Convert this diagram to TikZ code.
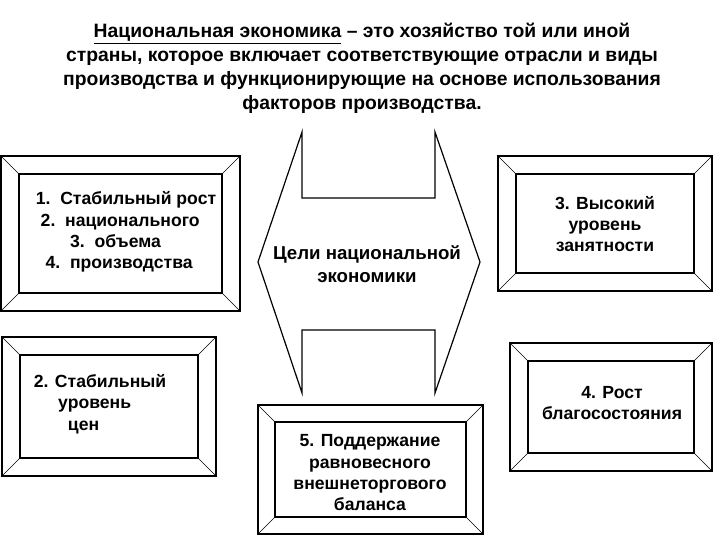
\documentclass[tikz,border=0pt]{standalone}
\usepackage{fontspec}
\setmainfont{Liberation Sans}
\newcommand{\bevelbox}[6]{%
  \coordinate (#1o1) at (#2,#3); \coordinate (#1o2) at (#4,#3);
  \coordinate (#1o3) at (#4,#5); \coordinate (#1o4) at (#2,#5);
  \coordinate (#1i1) at ($(#2,#3)+(#6,#6)$); \coordinate (#1i2) at ($(#4,#3)+(-#6,#6)$);
  \coordinate (#1i3) at ($(#4,#5)+(-#6,-#6)$); \coordinate (#1i4) at ($(#2,#5)+(#6,-#6)$);
  \draw[frame] (#1o1)--(#1o2)--(#1o3)--(#1o4)--cycle;
  \draw[frame] (#1i1)--(#1i2)--(#1i3)--(#1i4)--cycle;
  \draw[thin] (#1o1)--(#1i1) (#1o2)--(#1i2) (#1o3)--(#1i3) (#1o4)--(#1i4);}
\usetikzlibrary{calc}
\begin{document}
\begin{tikzpicture}[x=0.75pt,y=-0.75pt,
  frame/.style={line width=0.9pt},
  txt/.style={font=\bfseries\fontsize{13.2}{16}\selectfont, align=center, inner sep=0pt}]
\useasboundingbox (0,0) rectangle (720,540);
\node[txt, font=\bfseries\fontsize{14.5}{18}\selectfont] (title) at (362,68)
 {\underline{Национальная экономика} – это хозяйство той или иной\\
 страны, которое включает соответствующие отрасли и виды\\
 производства и функционирующие на основе использования\\
 факторов производства.};
\bevelbox{b1}{1}{156}{240}{311}{18}
\bevelbox{b3}{498}{156}{712}{291}{18}
\bevelbox{b2}{2}{337}{216}{476}{18}
\bevelbox{b4}{510}{343}{712}{471}{18}
\bevelbox{b5}{258}{405}{483}{534}{17}
\draw[frame] (302,132) coordinate (c1) -- (302,198) -- (435,198) -- (435,132)
  -- (480,262) -- (435,393) -- (435,330) -- (302,330) -- (302,393) -- (258,262) -- cycle;
\node[txt, font=\bfseries\fontsize{14}{17}\selectfont] (goal) at (367,264) {Цели национальной\\экономики};
\node[txt, align=left] (t1) at (126,232) {1.\ \ Стабильный рост\\\ 2.\ \ национального\\\ \ \ \ \ \ \ 3.\ \ объема\\\ \ 4.\ \ производства};
\node[txt] (t3) at (605,224) {3. Высокий\\уровень\\занятности};
\node[txt, align=left] (t2) at (100,404) {2. Стабильный\\\ \ \ \ \ уровень\\\ \ \ \ \ \ \ цен};
\node[txt] (t4) at (612,403) {4. Рост\\благосостояния};
\node[txt] (t5) at (370,473) {5. Поддержание\\равновесного\\внешнеторгового\\баланса};
\end{tikzpicture}
\end{document}
